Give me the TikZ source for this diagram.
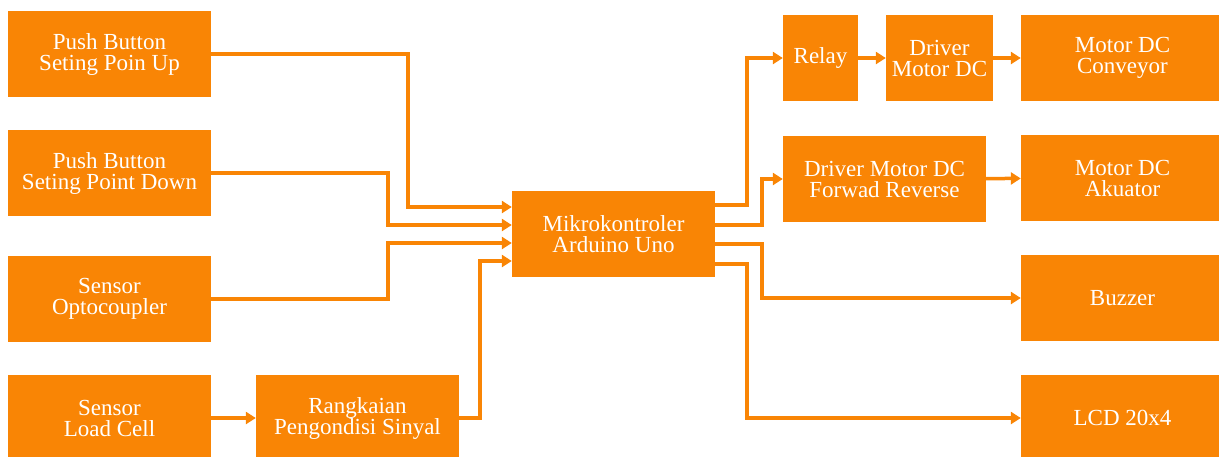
\documentclass[tikz,border=0pt]{standalone}
\usepackage{fontspec}
\setmainfont{Liberation Serif}
\usetikzlibrary{arrows.meta}
\definecolor{oranye}{RGB}{249,133,5}

\begin{document}
\begin{tikzpicture}[x=1pt,y=-1pt,blok/.style={fill=oranye,text=white,minimum width=203pt,minimum height=86pt,inner sep=0pt,align=center,font=\fontsize{23}{21}\selectfont},a/.style={-{Triangle[length=10pt,width=12pt]},draw=oranye,line width=3.5pt}]
\useasboundingbox (0,0) rectangle (1219,456);
\node[blok] (pbup) at (109.5,54) {Push Button\\Seting Poin Up};
\node[blok] (pbdown) at (109.5,173) {Push Button\\Seting Point Down};
\node[blok] (opto) at (109.5,299) {Sensor\\Optocoupler};
\node[blok] (loadcell) at (109.5,418) {Sensor\\Load Cell};
\node[blok] (rangkaian) at (357.5,418) {Rangkaian\\Pengondisi Sinyal};
\node[blok] (mikro) at (613.5,234) {Mikrokontroler\\Arduino Uno};
\node[blok,minimum width=75pt] (relay) at (820.5,58) {Relay};
\node[blok,minimum width=107pt] (drvmotor) at (939.5,58) {Driver\\Motor DC};
\node[blok] (drvfr) at (884.5,179) {Driver Motor DC\\Forwad Reverse};
\node[blok] (conveyor) at (1122.5,58) {Motor DC\\Conveyor};
\node[blok] (akuator) at (1122.5,178) {Motor DC\\Akuator};
\node[blok] (buzzer) at (1122.5,298) {Buzzer};
\node[blok] (lcd) at (1122.5,418) {LCD 20x4};
\draw[a] (pbup.east) -- ++(197,0) |- ([yshift=27pt]mikro.west);
\draw[a] (pbdown.east) -- ++(177,0) |- ([yshift=9pt]mikro.west);
\draw[a] (opto.east) -- ++(177,0) |- ([yshift=-9pt]mikro.west);
\draw[a] (rangkaian.east) -- ++(21,0) |- ([yshift=-27pt]mikro.west);
\draw[a] (loadcell) -- (rangkaian);
\draw[a] ([yshift=29pt]mikro.east) -- ++(32,0) |- (relay.west);
\draw[a] ([yshift=9pt]mikro.east) -- ++(47,0) |- (drvfr.west);
\draw[a] ([yshift=-10pt]mikro.east) -- ++(47,0) |- (buzzer.west);
\draw[a] ([yshift=-30pt]mikro.east) -- ++(32,0) |- (lcd.west);
\draw[a] (relay) -- (drvmotor);
\draw[a] (drvmotor) -- (conveyor);
\draw[a] (drvfr) -- (akuator);
\end{tikzpicture}
\end{document}
